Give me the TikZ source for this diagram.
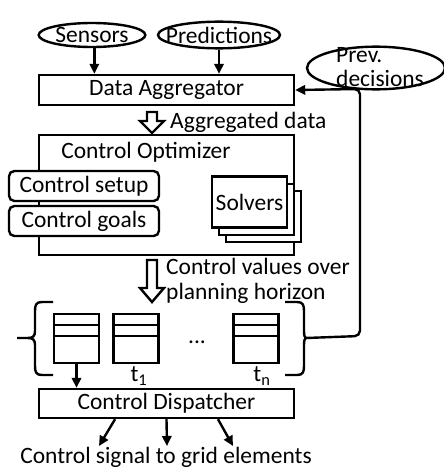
\documentclass[tikz,border=0pt]{standalone}
\usepackage{fontspec}
\setmainfont{Carlito}
\usetikzlibrary{arrows.meta,shapes.geometric,shadows}

\tikzset{
  block/.style={draw, fill=white, inner sep=0pt, minimum width=191.25pt},
  tagbox/.style={draw, fill=white, rounded corners=4pt, inner sep=0pt, minimum width=112.5pt, minimum height=22.5pt},
  source/.style={draw, ellipse, inner xsep=-12pt, inner ysep=-3pt},
  slot/.style={draw, inner sep=0pt, minimum width=33.75pt, minimum height=36.75pt},
  feed/.style={-{Triangle[length=7.5pt,width=7pt]}},
  bigarrow/.style={draw, fill=white}
}

\begin{document}
\begin{tikzpicture}[x=0.75pt,y=0.75pt,yscale=-1,xscale=1,line width=1.8pt,font=\fontsize{17.6}{18}\selectfont]
\useasboundingbox (0,0) rectangle (443,468);

% inputs
\node[source, minimum width=80pt, minimum height=18pt] (sensors) at (92,35) {Sensors};
\node[source, minimum width=91.5pt, minimum height=20pt] (predictions) at (219,35) {Predictions};
\node[source, minimum width=103.5pt, minimum height=32pt] (prevdec) at (376,68) {};
\node[anchor=west, inner sep=0pt, align=left] (prevtext) at (335,67) {\fontsize{17.6}{16}\selectfont Prev.\\decisions};

% aggregator
\node[block, minimum height=22.5pt] (aggregator) at (166.5,90) {Data Aggregator};
\draw[feed] (sensors.280) -- (sensors.280 |- aggregator.north);
\draw[feed] (predictions.south) -- (predictions.south |- aggregator.north);

%Hollow Down Arrow
\draw[bigarrow] (147,112) -- (157,112) -- (157,121) -- (164,121) -- (152,133) -- (140,121) -- (147,121) -- cycle ;
\node[anchor=west, inner sep=0pt] (aggdata) at (169,122) {Aggregated data};

% optimizer
\node[block, minimum height=90pt] (optimizer) at (166.5,195) {};
\node[inner sep=0pt] (optlabel) at (146,152) {Control Optimizer};
\node[tagbox] (setup) at (84,186) {Control setup};
\node[tagbox] (goals) at (84,221) {Control goals};
\node[draw, fill=white, inner sep=0pt, minimum width=56.25pt, minimum height=38.25pt,
      double copy shadow={shadow xshift=5.25pt, shadow yshift=-5.5pt}] (solvers) at (249.5,202) {Solvers};

%Hollow Down Arrow
\draw[bigarrow] (147,260) -- (157,260) -- (157,288) -- (164,288) -- (152,302) -- (140,288) -- (147,288) -- cycle ;
\node[anchor=north west, inner sep=0pt, align=left] (horizon) at (165,257) {Control values over\\[1pt]planning horizon};

% planning horizon slots
\node[slot] (slot0) at (76.5,338.5) {};
\node[slot] (slot1) at (136,338.5) {};
\node[slot] (slotn) at (256,338.5) {};
\foreach \s in {slot0,slot1,slotn}{
  \draw (\s.north west) ++(0,12) -- ++(45,0);
  \draw (\s.north west) ++(0,23) -- ++(45,0);
}
\node[inner sep=0pt] (dots) at (197,342) {...};
\node[inner sep=0pt] (t1) at (139,376) {t\textsubscript{1}};
\node[inner sep=0pt] (tn) at (262,376) {t\textsubscript{n}};

% braces
\coordinate (ltip) at (17,338);
\coordinate (rtip) at (306,338);
\draw (53,302) -- (42,302) .. controls (36,302) and (35,305) .. (35,311) -- (35,331) .. controls (35,336) and (33,338) .. (28,338) -- (ltip);
\draw (53,375) -- (42,375) .. controls (36,375) and (35,372) .. (35,366) -- (35,345) .. controls (35,340) and (33,338) .. (28,338);
\draw (285,302) -- (297,302) .. controls (303,302) and (304,305) .. (304,311) -- (304,331) .. controls (304,336) and (305,338) .. (rtip);
\draw (285,375) -- (297,375) .. controls (303,375) and (304,372) .. (304,366) -- (304,345) .. controls (304,340) and (305,338) .. (rtip);

% feedback to aggregator
\draw[feed, rounded corners=4pt] (rtip) -- (360,336) -- (360,89) -- (aggregator.east);

% dispatcher
\node[block, minimum height=21.75pt] (dispatcher) at (166.5,403.5) {Control Dispatcher};
\draw[feed] (slot0.south) -- (slot0.south |- dispatcher.north);
\coordinate (sig1) at (99,446);
\coordinate (sig2) at (167,446);
\coordinate (sig3) at (233,446);
\draw[feed] ([xshift=-38.6pt]dispatcher.south) -- (sig1);
\draw[feed] (dispatcher.south) -- (sig2);
\draw[feed] ([xshift=38.6pt]dispatcher.south) -- (sig3);
\node[anchor=base, inner sep=0pt] (signal) at (166,463) {Control signal to grid elements};

\end{tikzpicture}
\end{document}
